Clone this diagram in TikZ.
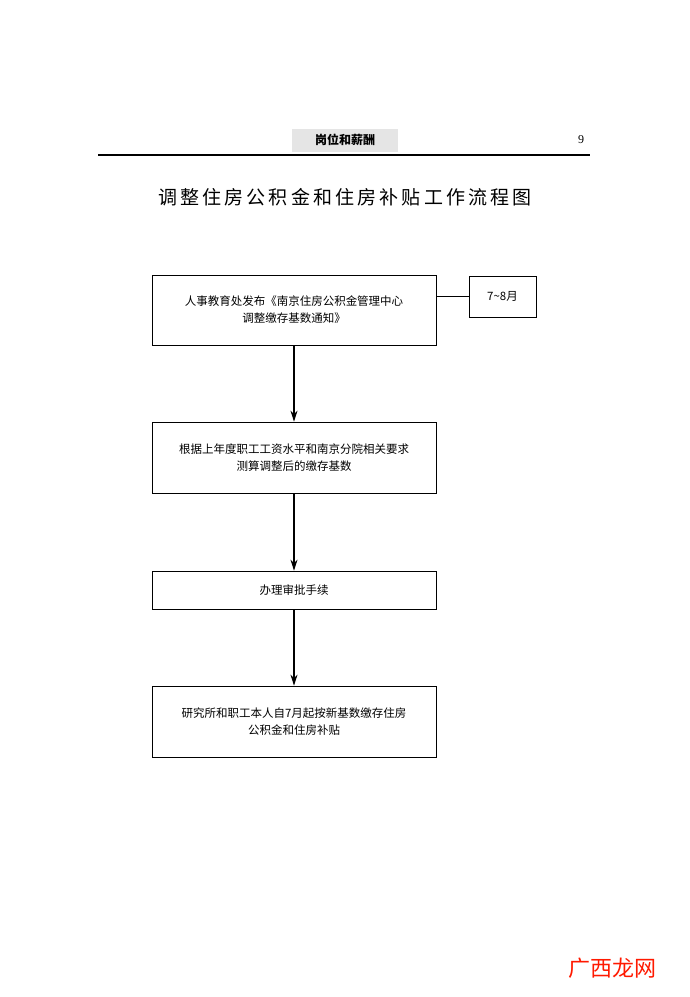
\documentclass[tikz,border=0pt]{standalone}
\usepackage{fontspec}
\setmainfont{Liberation Serif}
\newfontfamily\cjk{Noto Sans CJK SC}
\usetikzlibrary{arrows.meta}

\tikzset{
  stage/.style = {draw, line width=0.7pt, align=center, font=\cjk\fontsize{11.5}{17}\selectfont},
  flow/.style = {-{Stealth[length=11pt,width=7pt]}, line width=1.3pt}
}

\begin{document}
\begin{tikzpicture}[x=1pt,y=-1pt]
\useasboundingbox (0,0) rectangle (690,997);

% header
\fill[gray!20] (292,129) rectangle (398,152);
\node[font=\cjk\fontsize{12}{14}\selectfont\bfseries] (chapter) at (345,140) {岗位和薪酬};
\node[font=\fontsize{12}{14}\selectfont] (page) at (581,140) {9};
\draw[line width=2pt] (98,155) -- (590,155);
\node[font=\cjk\fontsize{19}{22}\selectfont] (title) at (345,197) {调\,整\,住\,房\,公\,积\,金\,和\,住\,房\,补\,贴\,工\,作\,流\,程\,图};

% stages
\node[stage, minimum width=284pt, minimum height=70pt] (notice) at (294,310)
  {人事教育处发布《南京住房公积金管理中心\\调整缴存基数通知》};
\node[stage, minimum width=67pt, minimum height=41pt] (month) at (502.5,296.5) {7\textasciitilde{}8{\cjk 月}};
\node[stage, minimum width=284pt, minimum height=71pt] (calc) at (294,457.5)
  {根据上年度职工工资水平和南京分院相关要求\\测算调整后的缴存基数};
\node[stage, minimum width=284pt, minimum height=38pt] (approve) at (294,590) {办理审批手续};
\node[stage, minimum width=284pt, minimum height=71pt] (pay) at (294,721.5)
  {研究所和职工本人自7月起按新基数缴存住房\\公积金和住房补贴};

\draw[line width=0.7pt] (notice.east |- month.west) -- (month.west);
\draw[flow] (notice) -- (calc);
\draw[flow] (calc) -- (approve);
\draw[flow] (approve) -- (pay);

% watermark
\node[font=\cjk\fontsize{22}{24}\selectfont, text=red!80!orange] (mark) at (612,968) {广西龙网};
\end{tikzpicture}
\end{document}
